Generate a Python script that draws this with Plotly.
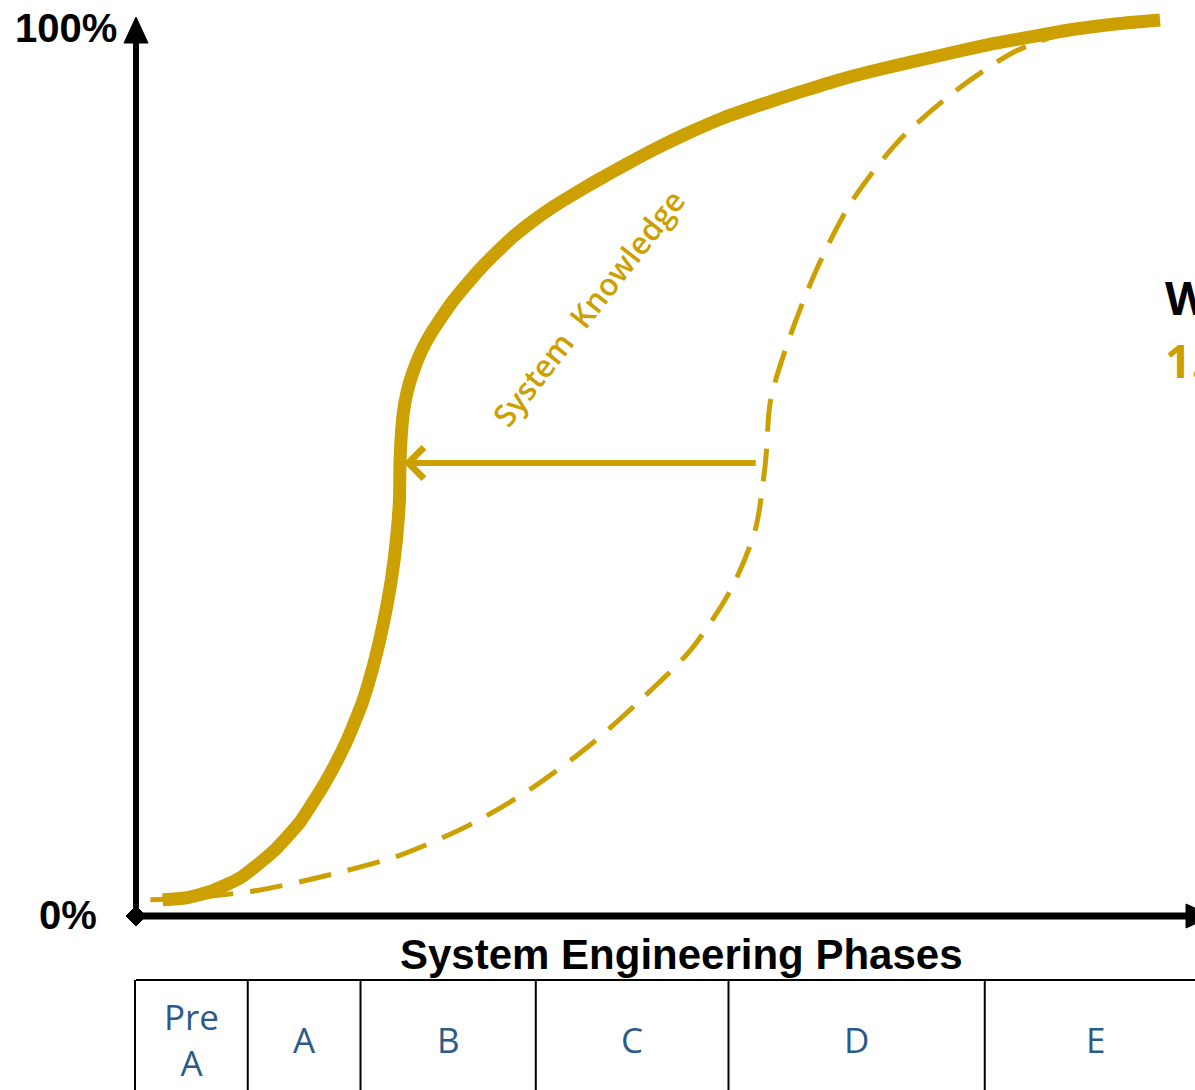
import plotly.graph_objects as go

# ---------------- data ----------------
# progress through the life cycle (% of x-span) vs. knowledge (%)
solid_x = [2.7, 4.9, 7.3, 10.2, 13.4, 16.1, 18.6, 20.6, 22.2, 23.4, 24.3, 25.0, 25.5, 25.8, 25.85,
           25.95, 26.15, 26.54, 27.12, 27.90, 28.78, 29.85, 31.02, 32.39, 33.76, 35.32, 36.98,
           38.83, 40.78, 42.83, 45.17, 47.80, 50.73, 53.76, 57.37, 61.27, 64.88, 68.68, 72.39,
           76.20, 80.00, 83.61, 87.32, 91.12, 95.61, 100.0]
solid_y = [1.7, 1.9, 2.6, 4.1, 7.0, 10.4, 14.9, 19.3, 23.8, 28.5, 33.0, 37.4, 41.9, 46.4, 50.5,
           53.07, 55.87, 58.44, 60.67, 62.91, 64.80, 66.70, 68.60, 70.50, 72.29, 74.08, 75.87,
           77.54, 79.11, 80.56, 82.12, 83.80, 85.59, 87.26, 89.05, 90.61, 91.96, 93.30, 94.41,
           95.42, 96.42, 97.32, 98.10, 98.88, 99.55, 100.0]

dashed_x = [1.5, 6.3, 12.2, 19.0, 25.9, 32.7, 38.5, 44.4, 49.3, 54.2, 58.1, 60.5, 61.5, 62.0, 63.7, 66.4, 69.8, 74.6, 80.2, 85.9, 91.8]
dashed_y = [1.7, 2.0, 2.8, 4.5, 6.7, 10.1, 14.0, 19.0, 24.0, 29.6, 36.3, 43.0, 50.5, 57.5, 64.0, 71.9, 79.5, 86.6, 92.2, 96.5, 99.0]

shift_from_x = 60.7   # arrow tail (dashed curve)
shift_to_x = 26.2     # arrow head (solid curve)
shift_y = 50.5

phase_labels = ["Pre<br>A", "A", "B", "C", "D", "E"]
phase_edges = [0.0, 11.0, 22.0, 39.1, 57.9, 82.9, 104.6]

y_tick_labels = ["0%", "100%"]
x_title = "System Engineering Phases"
curve_label = "System  Knowledge"

# ---------------- styling ----------------
GOLD = "#CCA000"
BLUE = "#2B5A8A"
W, H = 1195, 1090


def px(x):
    return x / W


def py(y):
    return 1 - y / H


fig = go.Figure()

fig.add_trace(go.Scatter(
    x=dashed_x, y=dashed_y, mode="lines",
    line=dict(color=GOLD, width=5, dash="33px,17px", shape="spline", smoothing=0.8),
    hoverinfo="skip", showlegend=False))

fig.add_trace(go.Scatter(
    x=solid_x, y=solid_y, mode="lines",
    line=dict(color=GOLD, width=13, shape="spline", smoothing=0.5),
    hoverinfo="skip", showlegend=False))

shapes = []
# y axis line + arrow head
shapes.append(dict(type="line", xref="paper", yref="paper",
                   x0=px(136), x1=px(136), y0=py(916), y1=py(40),
                   line=dict(color="black", width=6)))
shapes.append(dict(type="path", xref="paper", yref="paper",
                   path=f"M {px(124)},{py(43)} L {px(148)},{py(43)} L {px(136)},{py(17)} Z",
                   fillcolor="black", line=dict(color="black", width=1)))
# x axis line + arrow head
shapes.append(dict(type="line", xref="paper", yref="paper",
                   x0=px(136), x1=px(1190), y0=py(916), y1=py(916),
                   line=dict(color="black", width=7)))
shapes.append(dict(type="path", xref="paper", yref="paper",
                   path=f"M {px(1186)},{py(904)} L {px(1186)},{py(928)} L {px(1212)},{py(916)} Z",
                   fillcolor="black", line=dict(color="black", width=1)))
# origin diamond
shapes.append(dict(type="path", xref="paper", yref="paper",
                   path=f"M {px(126)},{py(916)} L {px(136)},{py(906)} L {px(146)},{py(916)} L {px(136)},{py(926)} Z",
                   fillcolor="black", line=dict(color="black", width=1)))

# phase table
shapes.append(dict(type="line", xref="paper", yref="paper",
                   x0=px(136), x1=1.0, y0=py(980), y1=py(980),
                   line=dict(color="black", width=2)))
for e in phase_edges:
    shapes.append(dict(type="line", xref="x", yref="paper",
                       x0=e, x1=e, y0=py(980), y1=0,
                       line=dict(color="black", width=2)))

annotations = []
for lab, a, b in zip(phase_labels, phase_edges[:-1], phase_edges[1:]):
    annotations.append(dict(x=(a + b) / 2, xref="x", y=py(1039), yref="paper",
                             text=lab, showarrow=False, xanchor="center", yanchor="middle",
                             font=dict(family="Open Sans", size=35, color=BLUE)))

annotations.append(dict(x=px(681), y=py(954), xref="paper", yref="paper", text=f"<b>{x_title}</b>",
                        showarrow=False, xanchor="center", yanchor="middle",
                        font=dict(family="Liberation Sans", size=42, color="black")))
annotations.append(dict(x=px(119), y=py(28), xref="paper", yref="paper", text=f"<b>{y_tick_labels[1]}</b>",
                        showarrow=False, xanchor="right", yanchor="middle",
                        font=dict(family="Liberation Sans", size=40, color="black")))
annotations.append(dict(x=px(99), y=py(915), xref="paper", yref="paper", text=f"<b>{y_tick_labels[0]}</b>",
                        showarrow=False, xanchor="right", yanchor="middle",
                        font=dict(family="Liberation Sans", size=40, color="black")))

# knowledge shift arrow
annotations.append(dict(x=shift_to_x, y=shift_y, xref="x", yref="y",
                        ax=shift_from_x, ay=shift_y, axref="x", ayref="y",
                        text="", showarrow=True, arrowhead=4, arrowsize=1, arrowwidth=6,
                        arrowcolor=GOLD, standoff=0))

# curve label
annotations.append(dict(x=44.2, y=67.8, xref="x", yref="y", text=curve_label, textangle=-52,
                        showarrow=False, xanchor="center", yanchor="middle",
                        font=dict(family="Open Sans", size=31, color=GOLD, weight=600)))

# cut-off side text
annotations.append(dict(x=px(1163), y=py(297), xref="paper", yref="paper", text="<b>W</b>",
                        showarrow=False, xanchor="left", yanchor="middle",
                        font=dict(family="Open Sans", size=46, color="black")))
annotations.append(dict(x=px(1163), y=py(360), xref="paper", yref="paper", text="<b>1.</b>",
                        showarrow=False, xanchor="left", yanchor="middle",
                        font=dict(family="Open Sans", size=46, color=GOLD)))

fig.update_layout(
    width=W, height=H,
    margin=dict(l=0, r=0, t=0, b=0),
    paper_bgcolor="white", plot_bgcolor="white",
    xaxis=dict(range=[-13.17, 103.41], visible=False, fixedrange=True),
    yaxis=dict(range=[-19.55, 102.23], visible=False, fixedrange=True),
    shapes=shapes, annotations=annotations,
    showlegend=False,
)

fig.write_html("out.html", config={"displayModeBar": False},
               post_script="document.body.style.margin='0';document.body.style.overflow='hidden';")
